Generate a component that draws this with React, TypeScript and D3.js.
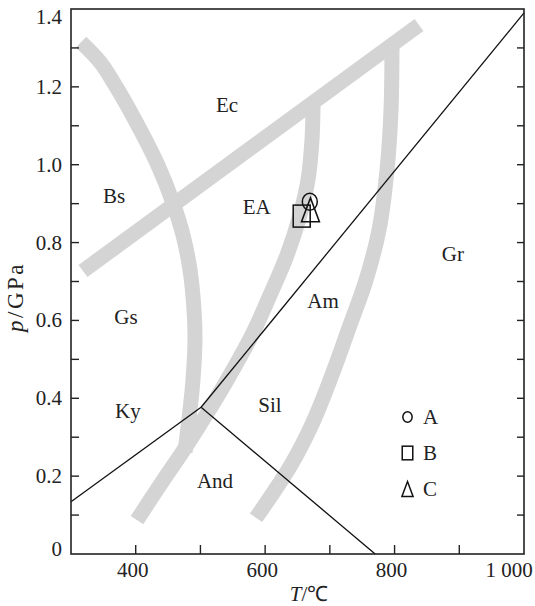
import React from "react";
import * as d3 from "d3";

// ---- data (T in °C, p in GPa) ----
const tDomain: [number, number] = [300, 1000];
const pDomain: [number, number] = [0, 1.4];

const xTickValues = [400, 500, 600, 700, 800, 900];
const xTickLabels = [
  { v: 400, t: "400" },
  { v: 600, t: "600" },
  { v: 800, t: "800" },
  { v: 1000, t: "1 000" },
];
const yTickValues = [0.1, 0.2, 0.3, 0.4, 0.5, 0.6, 0.7, 0.8, 0.9, 1.0, 1.1, 1.2, 1.3];
const yTickLabels = [
  { v: 0, t: "0" },
  { v: 0.2, t: "0.2" },
  { v: 0.4, t: "0.4" },
  { v: 0.6, t: "0.6" },
  { v: 0.8, t: "0.8" },
  { v: 1.0, t: "1.0" },
  { v: 1.2, t: "1.2" },
  { v: 1.4, t: "1.4" },
];

// thick grey facies boundaries
const bandLeft: [number, number][] = [
  [315.5, 1.315], [344.8, 1.264], [368, 1.205], [398.9, 1.115], [432.9, 1.004],
  [457.6, 0.902], [473.1, 0.819], [483.9, 0.73], [490.1, 0.627], [491.6, 0.55],
  [488.5, 0.447], [483.9, 0.37], [476.2, 0.262],
];
const bandMiddle: [number, number][] = [
  [674, 1.153], [672.4, 1.064], [666.2, 0.961], [653.9, 0.871], [633.8, 0.768],
  [607.5, 0.665], [579.7, 0.563], [545.7, 0.46], [511.7, 0.365], [476.2, 0.272],
  [437.5, 0.177], [402, 0.087],
];
const bandRight: [number, number][] = [
  [796, 1.308], [794.5, 1.141], [788.3, 0.986], [775.9, 0.832], [755.9, 0.704],
  [731.1, 0.588], [703.3, 0.46], [674, 0.339], [640, 0.229], [585.9, 0.093],
];
const bandEclogite: [number, number][] = [
  [318.5, 0.727], [837.8, 1.359],
];

// Al2SiO5 phase lines
const lineKyAnd: [number, number][] = [[300, 0.134], [501, 0.377]];
const lineKySil: [number, number][] = [[501, 0.377], [1000, 1.39]];
const lineAndSil: [number, number][] = [[501, 0.377], [770, 0]];

// field labels
const fieldNames = ["Ec", "Bs", "EA", "Gr", "Gs", "Am", "Ky", "Sil", "And"];
const fieldT = [541, 366.4, 587, 890, 385, 689.4, 388, 607.5, 522.5];
const fieldP = [1.135, 0.902, 0.873, 0.753, 0.592, 0.631, 0.349, 0.366, 0.169];

// samples
const sampleNames = ["A", "B", "C"];
const sampleT = [669, 656.5, 670];
const sampleP = [0.905, 0.868, 0.884];

const W = 535;
const H = 606;

export default function App() {
  const x = d3.scaleLinear().domain(tDomain).range([71, 524]);
  const y = d3.scaleLinear().domain(pDomain).range([554, 9]);

  const curve = d3
    .line<[number, number]>()
    .x((d) => x(d[0]))
    .y((d) => y(d[1]))
    .curve(d3.curveCatmullRom.alpha(0.5));
  const straight = d3
    .line<[number, number]>()
    .x((d) => x(d[0]))
    .y((d) => y(d[1]));

  const font = "'Liberation Serif', 'Times New Roman', serif";
  const grey = "#d4d4d4";
  const bandW = 15;

  const marker = (kind: number, cx: number, cy: number, s: number) => {
    if (kind === 0)
      return <ellipse cx={cx} cy={cy} rx={7.5 * s} ry={8.5 * s} fill="none" stroke="#111" strokeWidth={1.5} />;
    if (kind === 1)
      return (
        <rect x={cx - 8.5 * s} y={cy - 11 * s} width={17 * s} height={22 * s} fill="none" stroke="#111" strokeWidth={1.5} />
      );
    const hw = 9 * s;
    const hh = 12 * s;
    return (
      <path
        d={`M${cx},${cy - hh}L${cx + hw},${cy + hh}L${cx - hw},${cy + hh}Z`}
        fill="none"
        stroke="#111"
        strokeWidth={1.5}
      />
    );
  };

  return (
    <svg
      width={W}
      height={H}
      style={{ position: "absolute", left: 0, top: 0, background: "#fff" }}
      fontFamily={font}
    >
      <rect x={0} y={0} width={W} height={H} fill="#fff" />
      {/* grey bands */}
      <g fill="none" stroke={grey} strokeWidth={bandW} strokeLinecap="butt" strokeLinejoin="round">
        <path d={straight(bandEclogite) || ""} />
        <path d={curve(bandLeft) || ""} />
        <path d={curve(bandMiddle) || ""} />
        <path d={curve(bandRight) || ""} />
      </g>
      {/* phase lines */}
      <g fill="none" stroke="#111" strokeWidth={1.3}>
        <path d={straight(lineKyAnd) || ""} />
        <path d={straight(lineKySil) || ""} />
        <path d={straight(lineAndSil) || ""} />
      </g>
      {/* field labels */}
      <g fontSize={21} fill="#222" textAnchor="middle">
        {fieldNames.map((n, i) => (
          <text key={n} x={x(fieldT[i])} y={y(fieldP[i])}>
            {n}
          </text>
        ))}
      </g>
      {/* samples */}
      <g>
        {sampleNames.map((n, i) => (
          <g key={n}>{marker(i, x(sampleT[i]), y(sampleP[i]), 1)}</g>
        ))}
      </g>
      {/* legend */}
      <g fontSize={21} fill="#222">
        {sampleNames.map((n, i) => {
          const cy = 417 + i * 36;
          return (
            <g key={n}>
              {marker(i, 407.5, cy, 0.62)}
              <text x={423} y={cy + 7}>
                {n}
              </text>
            </g>
          );
        })}
      </g>
      {/* frame */}
      <rect x={71} y={9} width={453} height={545} fill="none" stroke="#222" strokeWidth={1.6} />
      {/* ticks */}
      <g stroke="#222" strokeWidth={1.4}>
        {xTickValues.map((v) => (
          <line key={"xb" + v} x1={x(v)} x2={x(v)} y1={554} y2={545} />
        ))}
        {yTickValues.map((v) => (
          <line key={"yl" + v} x1={71} x2={79} y1={y(v)} y2={y(v)} />
        ))}
        {yTickValues.map((v) => (
          <line key={"yr" + v} x1={524} x2={517} y1={y(v)} y2={y(v)} />
        ))}
      </g>
      {/* tick labels */}
      <g fontSize={21} fill="#222">
        {xTickLabels.map((d) => (
          <text key={d.t} x={d.v === 1000 ? 509 : x(d.v) - 3} y={577} textAnchor="middle">
            {d.t}
          </text>
        ))}
        {yTickLabels.map((d) => {
          let cy = y(d.v);
          if (d.v === 1.4) cy += 8;
          if (d.v === 0) cy -= 5;
          return (
            <text key={d.t} x={62} y={cy + 7} textAnchor="end">
              {d.t}
            </text>
          );
        })}
      </g>
      {/* axis titles */}
      <text x={309} y={601} fontSize={21} fill="#222" textAnchor="middle">
        <tspan fontStyle="italic">T</tspan>/℃
      </text>
      <text
        transform="translate(23,297) rotate(-90)"
        fontSize={23}
        fill="#222"
        textAnchor="middle"
        letterSpacing={2.5}
      >
        <tspan fontStyle="italic">p</tspan>/GPa
      </text>
    </svg>
  );
}
